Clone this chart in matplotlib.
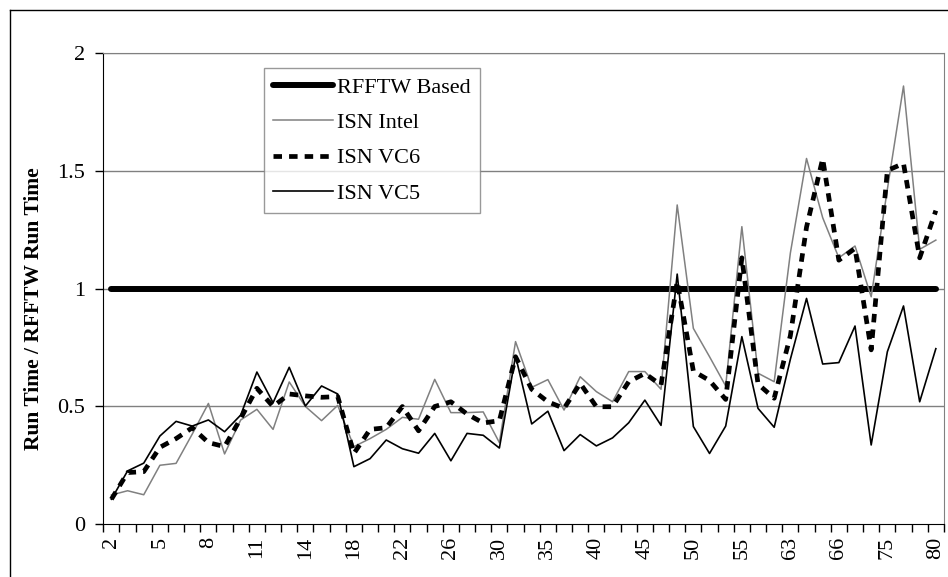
import matplotlib
matplotlib.use('Agg')
import matplotlib.pyplot as plt
from matplotlib.lines import Line2D

# transform sizes (categories on the x axis)
sizes = [2, 3, 4, 5, 6, 7, 8, 9, 10, 11, 12, 13, 14, 15, 16, 18, 20, 21, 22, 24,
         25, 26, 27, 28, 30, 32, 33, 35, 36, 39, 40, 42, 44, 45, 48, 49, 50, 52,
         54, 55, 56, 60, 63, 64, 65, 66, 70, 72, 75, 77, 78, 80]

rfftw = [1.0] * len(sizes)

isn_intel = [0.125, 0.143, 0.126, 0.251, 0.259, 0.383, 0.513, 0.299, 0.443, 0.488,
             0.403, 0.604, 0.500, 0.440, 0.505, 0.330, 0.364, 0.403, 0.454, 0.446,
             0.615, 0.474, 0.474, 0.477, 0.347, 0.775, 0.581, 0.614, 0.485, 0.626,
             0.563, 0.520, 0.648, 0.648, 0.573, 1.354, 0.831, 0.711, 0.587, 1.262,
             0.641, 0.605, 1.150, 1.551, 1.300, 1.130, 1.180, 0.965, 1.420, 1.858,
             1.166, 1.205]

isn_vc6 = [0.107, 0.220, 0.224, 0.327, 0.364, 0.410, 0.347, 0.330, 0.450, 0.577,
           0.500, 0.553, 0.545, 0.539, 0.542, 0.301, 0.403, 0.410, 0.500, 0.397,
           0.500, 0.520, 0.468, 0.430, 0.440, 0.711, 0.573, 0.520, 0.492, 0.598,
           0.499, 0.499, 0.605, 0.640, 0.591, 1.030, 0.650, 0.610, 0.530, 1.130,
           0.595, 0.535, 0.800, 1.260, 1.550, 1.120, 1.170, 0.740, 1.500, 1.530,
           1.130, 1.330]

isn_vc5 = [0.107, 0.227, 0.260, 0.375, 0.437, 0.417, 0.443, 0.393, 0.464, 0.646,
           0.516, 0.666, 0.502, 0.587, 0.553, 0.245, 0.279, 0.358, 0.321, 0.302,
           0.386, 0.270, 0.386, 0.378, 0.324, 0.714, 0.426, 0.480, 0.313, 0.381,
           0.333, 0.367, 0.431, 0.527, 0.420, 1.061, 0.415, 0.301, 0.417, 0.796,
           0.492, 0.412, 0.700, 0.958, 0.680, 0.686, 0.841, 0.337, 0.732, 0.926,
           0.520, 0.745]

plt.rcParams['font.family'] = ['Liberation Serif', 'DejaVu Serif']

fig = plt.figure(figsize=(9.48, 5.77), dpi=100)
ax = fig.add_axes([0.109, 0.091, 0.8867, 0.818])

x = list(range(len(sizes)))

for y in [0.5, 1.0, 1.5, 2.0]:
    ax.axhline(y, color='#808080', linewidth=1.0, zorder=0)

ax.plot(x, rfftw, color='black', linewidth=4.3, solid_capstyle='round', label='RFFTW Based', zorder=3)
ax.plot(x, isn_intel, color='#808080', linewidth=1.1, label='ISN Intel', zorder=4)
ax.plot(x, isn_vc6, color='black', linewidth=3.4, linestyle=(0, (1.8, 1.5)), label='ISN VC6', zorder=5)
ax.plot(x, isn_vc5, color='black', linewidth=1.2, label='ISN VC5', zorder=6)

ax.set_xlim(-0.5, len(sizes) - 0.5)
ax.set_ylim(0, 2)
ax.set_yticks([0, 0.5, 1, 1.5, 2])
ax.set_yticklabels(['0', '0.5', '1', '1.5', '2'])

# tick marks between categories, labels on every third category
ax.set_xticks([i - 0.5 for i in range(len(sizes) + 1)])
ax.set_xticklabels([])
ax.set_xticks(x[::3], minor=True)
ax.set_xticklabels([str(s) for s in sizes[::3]], minor=True, rotation=90)
ax.tick_params(axis='x', which='major', direction='out', length=6, width=1)
ax.tick_params(axis='x', which='minor', length=0, pad=9, labelsize=16)
ax.tick_params(axis='y', direction='out', length=6, width=1, pad=7, labelsize=16)

ax.spines['top'].set_color('#808080')
ax.spines['right'].set_color('#808080')
ax.spines['left'].set_color('black')
ax.spines['bottom'].set_color('black')

ax.set_ylabel('Run Time / RFFTW Run Time', fontsize=15.5, fontweight='bold')
ax.yaxis.set_label_coords(-0.0705, 0.457)

leg = ax.legend(loc='upper left', bbox_to_anchor=(0.191, 0.967), borderaxespad=0,
                fontsize=16, frameon=True, fancybox=False, handlelength=2.7,
                handletextpad=0.15, labelspacing=0.66, borderpad=0.42)
leg.get_frame().set_edgecolor('#808080')
leg.get_frame().set_linewidth(1.0)

# outer chart border
fig.add_artist(Line2D([9.5 / 948, 9.5 / 948], [0, 1 - 10 / 577], color='black', linewidth=1.0))
fig.add_artist(Line2D([9.5 / 948, 1], [1 - 10 / 577, 1 - 10 / 577], color='black', linewidth=1.0))

fig.savefig('out.png', dpi=100)
